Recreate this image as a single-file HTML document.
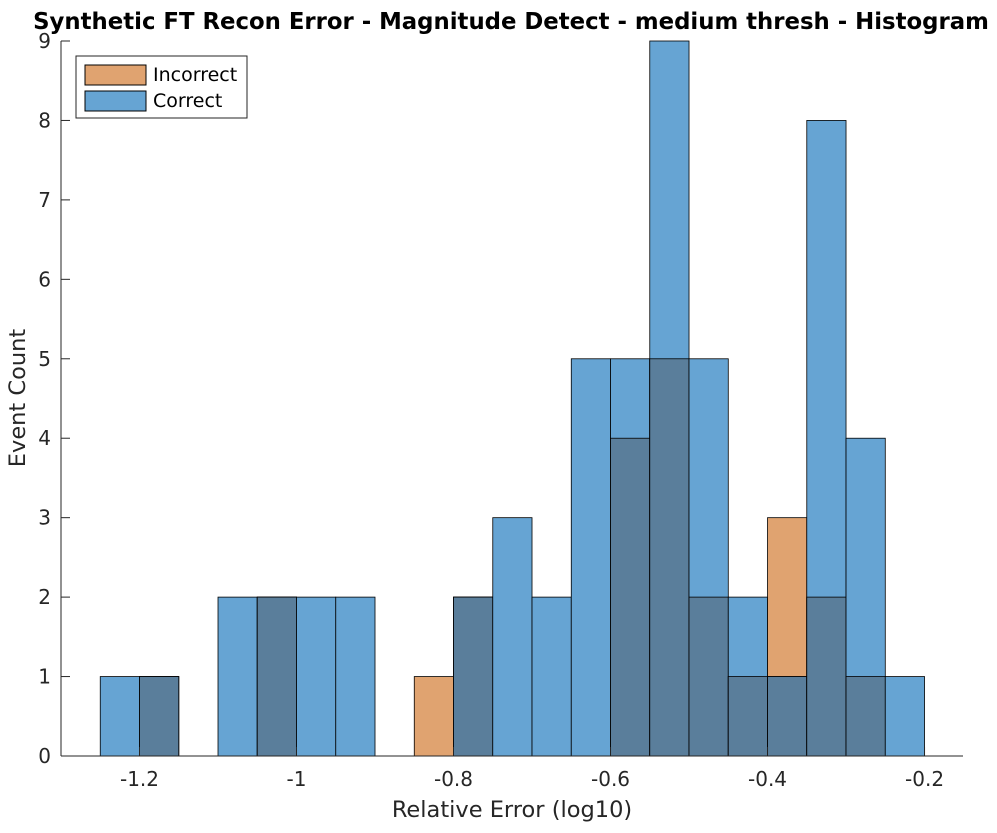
<!DOCTYPE html>
<html><head><meta charset="utf-8"><style>
body{margin:0;background:#fff;font-family:"Liberation Sans","DejaVu Sans",sans-serif;}
svg text{font-family:"DejaVu Sans","Liberation Sans",sans-serif;}
</style></head><body>
<svg id="chart" width="997" height="828">
<text x="511" y="29" text-anchor="middle" font-size="22.8" font-weight="bold" fill="#000">Synthetic FT Recon Error - Magnitude Detect - medium thresh - Histogram</text>
<g id="bars"></g>
<g id="axes"></g>
<text x="512" y="817" text-anchor="middle" font-size="22.5" fill="#262626">Relative Error (log10)</text>
<text transform="translate(25,398) rotate(-90)" text-anchor="middle" font-size="22.5" fill="#262626">Event Count</text>
<g>
<rect x="76" y="56" width="171" height="62" fill="#fff" stroke="#262626" stroke-width="1"/>
<rect x="85" y="65" width="61" height="20" fill="#e0a370" stroke="#000" stroke-width="1"/>
<text x="153" y="81" font-size="19" fill="#000">Incorrect</text>
<rect x="85" y="91" width="61" height="20" fill="#66a4d3" stroke="#000" stroke-width="1"/>
<text x="153" y="107" font-size="19" fill="#000">Correct</text>
</g>
</svg>
<script>
const binStarts=[-1.25,-1.2,-1.15,-1.1,-1.05,-1.0,-0.95,-0.9,-0.85,-0.8,-0.75,-0.7,-0.65,-0.6,-0.55,-0.5,-0.45,-0.4,-0.35,-0.3,-0.25];
const correctCounts=[1,1,0,2,2,2,2,0,0,2,3,2,5,5,9,5,2,1,8,4,1];
const incorrectCounts=[0,1,0,0,2,0,0,0,1,2,0,0,0,4,5,2,1,3,2,1,0];
const xTicks=[-1.2,-1,-0.8,-0.6,-0.4,-0.2];
const xTickLabels=["-1.2","-1","-0.8","-0.6","-0.4","-0.2"];
const yTicks=[0,1,2,3,4,5,6,7,8,9];
const binWidth=0.05;
const L=61,R=963,T=41,B=756,xmin=-1.3,xmax=-0.151,ymax=9;
const sx=v=>L+(v-xmin)/(xmax-xmin)*(R-L);
const sy=v=>B-v/ymax*(B-T);
const NS="http://www.w3.org/2000/svg";
const bars=document.getElementById('bars'),axes=document.getElementById('axes');
function rect(x0,x1,c,col){const r=document.createElementNS(NS,'rect');
r.setAttribute('x',sx(x0));r.setAttribute('width',sx(x1)-sx(x0));
r.setAttribute('y',sy(c));r.setAttribute('height',sy(0)-sy(c));
r.setAttribute('fill',col);r.setAttribute('stroke','#000');r.setAttribute('stroke-width','0.8');bars.appendChild(r);return r;}
binStarts.forEach((b,i)=>{
 if(incorrectCounts[i]>0){const r=rect(b,b+binWidth,incorrectCounts[i],'#e0a370');
 
 }
 if(correctCounts[i]>0){const r=rect(b,b+binWidth,correctCounts[i],'#66a4d3');
 
 }
 const m=Math.min(correctCounts[i],incorrectCounts[i]);
 if(m>0){const r=rect(b,b+binWidth,m,'#5a7e9b');
 
 }
});
function line(x1,y1,x2,y2){const l=document.createElementNS(NS,'line');
l.setAttribute('x1',x1);l.setAttribute('y1',y1);l.setAttribute('x2',x2);l.setAttribute('y2',y2);
l.setAttribute('stroke','#262626');l.setAttribute('stroke-width','1');axes.appendChild(l);return l;}
function txt(x,y,s,a){const t=document.createElementNS(NS,'text');t.setAttribute('x',x);t.setAttribute('y',y);
t.setAttribute('text-anchor',a);t.setAttribute('font-size','20');t.setAttribute('fill','#262626');t.textContent=s;axes.appendChild(t);return t;}
const xa=line(L,B,R,B);


const ya=line(L,B,L,T);


xTicks.forEach((v,i)=>{line(sx(v),B,sx(v),B-9);const t=txt(sx(v),786,xTickLabels[i],'middle');

});
yTicks.forEach(v=>{line(L,sy(v),L+9,sy(v));const t=txt(L-10,sy(v)+7,String(v),'end');

});
</script>
</body></html>
